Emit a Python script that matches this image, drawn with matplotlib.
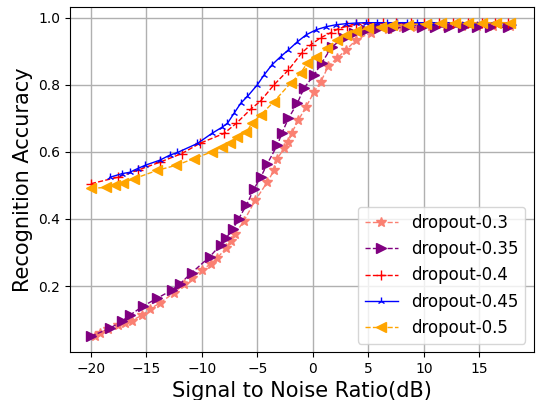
import matplotlib
matplotlib.use("Agg")
import matplotlib.pyplot as plt

# dropout-0.3
snr_03 = [-19.6, -19.2, -18.5, -17.6, -16.9, -16.3, -15.4, -14.7, -13.8, -12.5, -11.6, -10.9,
          -10.0, -9.2, -8.6, -7.8, -7.4, -7.0, -6.2, -5.2, -4.1, -3.5, -3.2, -2.6, -2.2, -1.9,
          -1.3, -0.6, 0.1, 0.7, 1.4, 2.2, 3.0, 3.9, 5.2, 6.8, 8.0, 9.3, 10.6, 12.0, 13.4, 14.8,
          16.2, 17.8]
acc_03 = [0.05, 0.06, 0.072, 0.083, 0.09, 0.097, 0.113, 0.131, 0.149, 0.18, 0.206, 0.224,
          0.248, 0.266, 0.284, 0.314, 0.335, 0.356, 0.395, 0.455, 0.51, 0.545, 0.58, 0.61, 0.628,
          0.657, 0.695, 0.735, 0.778, 0.808, 0.856, 0.88, 0.904, 0.934, 0.955, 0.967, 0.971,
          0.973, 0.974, 0.975, 0.975, 0.975, 0.975, 0.974]

# dropout-0.35
snr_035 = [-20.0, -18.3, -17.2, -16.5, -15.3, -14.0, -12.7, -12.0, -10.9, -9.3, -8.3, -7.8,
           -7.2, -6.7, -6.0, -5.3, -4.7, -4.1, -3.2, -2.8, -2.2, -1.4, -0.8, 0.1, 0.8, 1.7, 2.8,
           3.7, 4.8, 6.0, 7.2, 8.5, 9.8, 11.0, 12.3, 13.5, 14.8, 16.0, 17.6]
acc_035 = [0.05, 0.074, 0.095, 0.113, 0.14, 0.164, 0.188, 0.206, 0.24, 0.287, 0.323, 0.344,
           0.37, 0.40, 0.44, 0.49, 0.524, 0.565, 0.62, 0.655, 0.70, 0.745, 0.79, 0.829, 0.865,
           0.913, 0.94, 0.955, 0.964, 0.968, 0.97, 0.971, 0.972, 0.972, 0.972, 0.972, 0.972,
           0.972, 0.971]

# dropout-0.4
snr_04 = [-20.0, -17.6, -15.8, -13.8, -11.8, -10.2, -8.0, -6.9, -5.6, -4.7, -3.5, -2.2, -1.0,
          -0.2, 0.7, 1.6, 2.3, 3.1, 3.9, 5.0, 6.3, 7.5, 8.8, 10.0, 11.4, 12.6, 14.0, 15.2, 16.4,
          17.6]
acc_04 = [0.505, 0.524, 0.545, 0.569, 0.595, 0.625, 0.655, 0.685, 0.727, 0.752, 0.80, 0.844,
          0.895, 0.919, 0.94, 0.955, 0.967, 0.975, 0.982, 0.984, 0.985, 0.985, 0.985, 0.985,
          0.985, 0.985, 0.985, 0.985, 0.985, 0.985]

# dropout-0.45
snr_045 = [-18.3, -17.2, -16.5, -15.8, -15.1, -13.8, -12.9, -12.2, -10.4, -9.1, -8.2, -7.7,
           -7.1, -6.5, -5.9, -5.0, -4.4, -3.7, -2.9, -2.2, -1.4, -0.6, 0.3, 1.2, 2.1, 3.0, 3.9,
           4.8, 5.8, 6.7, 7.6, 8.5, 9.4, 10.6, 11.7, 13.0, 14.3, 15.5, 16.8, 18.0]
acc_045 = [0.524, 0.535, 0.539, 0.55, 0.56, 0.575, 0.59, 0.598, 0.625, 0.655, 0.673, 0.685,
           0.715, 0.745, 0.765, 0.80, 0.829, 0.859, 0.884, 0.904, 0.928, 0.949, 0.964, 0.973,
           0.979, 0.982, 0.984, 0.985, 0.985, 0.985, 0.985, 0.985, 0.985, 0.985, 0.985, 0.985,
           0.985, 0.985, 0.985, 0.985]

# dropout-0.5
snr_05 = [-20.0, -18.6, -17.8, -17.1, -16.1, -14.0, -12.3, -10.7, -9.1, -8.2, -7.5, -6.8,
          -6.0, -5.5, -4.7, -3.5, -2.0, -1.1, -0.5, 0.3, 1.3, 2.2, 3.0, 3.9, 5.0, 6.1, 7.1, 8.6,
          10.2, 11.5, 12.8, 14.0, 15.2, 16.5, 17.8]
acc_05 = [0.491, 0.494, 0.50, 0.508, 0.52, 0.545, 0.56, 0.58, 0.60, 0.614, 0.625, 0.643,
          0.658, 0.685, 0.71, 0.75, 0.805, 0.835, 0.865, 0.884, 0.91, 0.934, 0.949, 0.96, 0.968,
          0.973, 0.977, 0.979, 0.982, 0.984, 0.985, 0.985, 0.985, 0.985, 0.985]

fig = plt.figure(figsize=(5.37, 4.0), dpi=100)
ax = fig.add_axes([0.130, 0.12, 0.864, 0.8625])

ax.plot(snr_03, acc_03, '--', color='salmon', marker='*', markersize=7, linewidth=1, label='dropout-0.3')
ax.plot(snr_035, acc_035, '--', color='purple', marker='>', markersize=7, linewidth=1, label='dropout-0.35')
ax.plot(snr_04, acc_04, '--', color='red', marker='+', markersize=7, linewidth=1, label='dropout-0.4')
ax.plot(snr_045, acc_045, '-', color='blue', marker='2', markersize=6, linewidth=1, label='dropout-0.45')
ax.plot(snr_05, acc_05, '--', color='orange', marker='<', markersize=7, linewidth=1, label='dropout-0.5')

ax.set_xticks([-20, -15, -10, -5, 0, 5, 10, 15])
ax.set_yticks([0.2, 0.4, 0.6, 0.8, 1.0])
ax.tick_params(labelsize=10)
ax.set_xlabel('Signal to Noise Ratio(dB)', fontsize=15)
ax.set_ylabel('Recognition Accuracy', fontsize=15)
ax.grid(True, color='#b0b0b0', linewidth=1)
ax.legend(loc='lower right', fontsize=12)

fig.savefig('out.png', dpi=100)
